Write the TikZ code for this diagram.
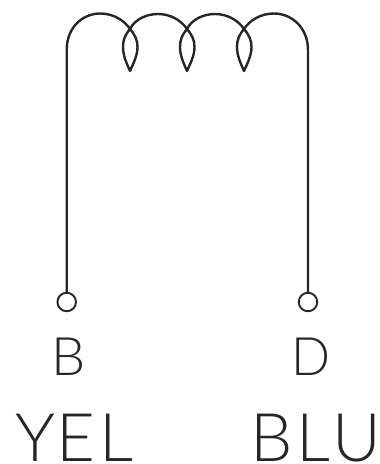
\documentclass[tikz,border=0pt]{standalone}
\usepackage{fontspec}
\setmainfont{Lato Light}
\tikzset{
  wire/.style={line width=2.4pt,draw=black!85,line join=round},
  term/.style={circle,draw=black!85,line width=1.9pt,minimum size=18.5pt,inner sep=0pt},
  small/.style={inner sep=0pt,anchor=base,text=black!85,font=\fontsize{53}{53}\selectfont,xscale=1.02},
  large/.style={inner sep=0pt,anchor=base,text=black!85,font=\fontsize{67}{67}\selectfont,xscale=1}
}
\begin{document}
\begin{tikzpicture}[x=1pt,y=-1pt]
\useasboundingbox (0,0) rectangle (380,464);
\node[term] (tb) at (66.7,302) {};
\node[term] (td) at (308,302) {};
\coordinate (c1) at (130,29);
\coordinate (c2) at (187,29);
\coordinate (c3) at (244,29);
\coordinate (l1) at (130,71);
\coordinate (l2) at (187,71);
\coordinate (l3) at (244,71);
\draw[wire] (tb.north) -- (66.7,50)
  .. controls (66.7,26) and (84,13.5) .. (100,13.5)
  .. controls (113,13.5) and (124,20) .. (c1)
  .. controls (135,35) and (137.5,40) .. (137.5,47)
  .. controls (137.5,56) and (133,64) .. (l1)
  .. controls (127,64) and (123,56) .. (123,47)
  .. controls (123,40) and (125,35) .. (c1)
  .. controls (135,19) and (147,14) .. (158,14)
  .. controls (170,14) and (181,20) .. (c2)
  .. controls (192,35) and (194.5,40) .. (194.5,47)
  .. controls (194.5,56) and (190,64) .. (l2)
  .. controls (184,64) and (180,56) .. (180,47)
  .. controls (180,40) and (182,35) .. (c2)
  .. controls (192,19) and (204,14) .. (215,14)
  .. controls (227,14) and (238,20) .. (c3)
  .. controls (249,35) and (251.5,40) .. (251.5,47)
  .. controls (251.5,56) and (247,64) .. (l3)
  .. controls (241,64) and (237,56) .. (237,47)
  .. controls (237,40) and (239,35) .. (c3)
  .. controls (250,20) and (261,13.5) .. (274,13.5)
  .. controls (292,13.5) and (308,28) .. (308,50)
  -- (td.north);
\node[small] (b) at (68.5,375) {B};
\node[small,xscale=.95] (d) at (311,375) {D};
\node[large] (yel) at (74.5,461) {Y\kern2pt E\kern4pt L};
\node[large] (blu) at (316,461) {B\kern4pt L\kern2pt U};
\end{tikzpicture}
\end{document}
